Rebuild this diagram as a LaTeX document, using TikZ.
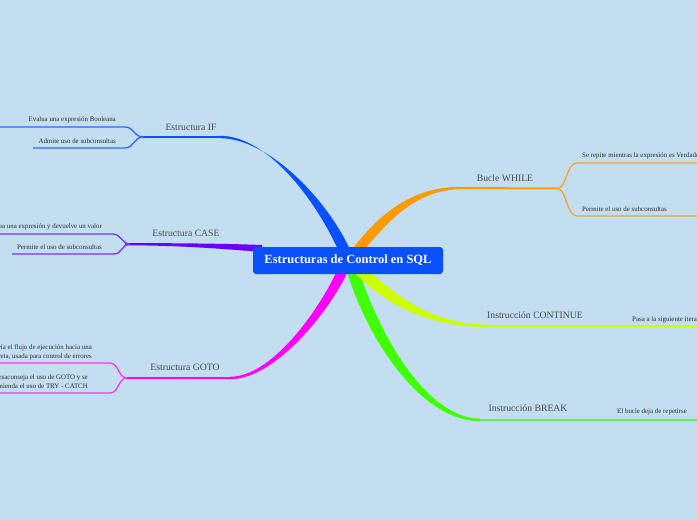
\documentclass[tikz,border=0pt]{standalone}
\usepackage{fontspec}
\setmainfont{Liberation Serif}
\definecolor{bg}{HTML}{C3DEF0}
\definecolor{cblue}{HTML}{0A50FF}
\definecolor{cblueL}{HTML}{2F66FF}
\definecolor{corange}{HTML}{FF9A00}
\definecolor{corangeL}{HTML}{F5A52A}
\definecolor{cpurple}{HTML}{6A00FF}
\definecolor{cpurpleL}{HTML}{7A30FF}
\definecolor{cmag}{HTML}{FF00FF}
\definecolor{cmagL}{HTML}{FF33FF}
\definecolor{cyellow}{HTML}{CCFF00}
\definecolor{cgreen}{HTML}{40FF00}
\definecolor{cgreenL}{HTML}{5CF25A}
\definecolor{lbltxt}{HTML}{4A4A4A}
\definecolor{leaftxt}{HTML}{2E2E2E}
\begin{document}
\begin{tikzpicture}[x=1pt,y=-1pt,
  lbl/.style={inner sep=0pt, text=lbltxt, font=\fontsize{9.7}{11}\selectfont},
  leaf/.style={inner sep=0pt, text=leaftxt, font=\fontsize{6.9}{9}\selectfont},
  under/.style={line width=2pt},
  twig/.style={line width=1.3pt},
  central/.style={fill=cblue, rounded corners=3pt, minimum width=190pt, minimum height=27pt, inner sep=0pt, text=white, font=\fontsize{12.5}{14}\selectfont\bfseries}]
\useasboundingbox (0,0) rectangle (697,520);
\fill[bg] (0,0) rectangle (697,520);
\clip (0,0) rectangle (697,520);

% named coordinates
\coordinate (ifE) at (220,137);
\coordinate (ifJ) at (143,137);
\coordinate (ifA) at (125,127);
\coordinate (ifB) at (125,148);
\coordinate (ifA0) at (0,127);
\coordinate (ifB0) at (33,148);
\coordinate (caseJ) at (130,244);
\coordinate (caseA) at (113,234);
\coordinate (caseB) at (114,254);
\coordinate (caseA0) at (0,234);
\coordinate (caseB0) at (12,254);
\coordinate (gotoE) at (230,378);
\coordinate (gotoJ) at (127,378);
\coordinate (gotoA) at (110,363);
\coordinate (gotoB) at (110,393);
\coordinate (gotoA0) at (0,363);
\coordinate (gotoB0) at (0,393);
\coordinate (whE) at (460,188);
\coordinate (whJ) at (557,188.5);
\coordinate (whA) at (577,163);
\coordinate (whB) at (577,216);
\coordinate (whA0) at (697,163);
\coordinate (whB0) at (697,216);
\coordinate (coE) at (490,326);
\coordinate (co0) at (697,326);
\coordinate (brE) at (480,420);
\coordinate (br0) at (697,420);

% tapered main branches
\fill[cblue] (339,252) .. controls (319,206) and (270,135.8) .. (220,135.8) -- (220,138.2) .. controls (270,138.2) and (330,203) .. (351,252) -- cycle;
\fill[corange] (350,252) .. controls (375,219) and (408,186.8) .. (460,186.8) -- (460,189.2) .. controls (412,190.5) and (386,225) .. (362,252) -- cycle;
\fill[cpurple] (125,243.1) .. controls (180,243.1) and (225,243.6) .. (262,245) -- (262,252) .. controls (225,249) and (180,245.3) .. (125,245.3) -- cycle;
\fill[cmag] (338,268) .. controls (325,300) and (275,376.8) .. (230,376.8) -- (230,379.2) .. controls (278,379.5) and (336,302) .. (349,268) -- cycle;
\fill[cgreen] (346,268) .. controls (364,332) and (418,421.2) .. (480,421.2) -- (480,418.8) .. controls (423,417) and (377,328) .. (358,268) -- cycle;
\fill[cyellow] (354,272) .. controls (386,305) and (428,327.2) .. (490,327.2) -- (490,324.8) .. controls (432,325) and (396,296) .. (366,268) -- cycle;

% underlines and twigs
\draw[cblue, under] (ifE) -- (ifJ);
\draw[cblueL, twig] (ifJ) .. controls (134,137) and (134,127) .. (ifA) -- (ifA0);
\draw[cblueL, twig] (ifJ) .. controls (134,137) and (134,148) .. (ifB) -- (ifB0);
\draw[cpurpleL, twig] (caseJ) .. controls (122,244) and (121,234) .. (caseA) -- (caseA0);
\draw[cpurpleL, twig] (caseJ) .. controls (122,244) and (122,254) .. (caseB) -- (caseB0);
\draw[cmag, under] (gotoE) -- (gotoJ);
\draw[cmagL, twig] (gotoJ) .. controls (118,378) and (119,363) .. (gotoA) -- (gotoA0);
\draw[cmagL, twig] (gotoJ) .. controls (118,378) and (119,393) .. (gotoB) -- (gotoB0);
\draw[corange, under] (whE) -- (whJ);
\draw[corangeL, twig] (whJ) .. controls (567,188.5) and (566,163) .. (whA) -- (whA0);
\draw[corangeL, twig] (whJ) .. controls (567,188.5) and (566,216) .. (whB) -- (whB0);
\draw[cyellow, under] (coE) -- (co0);
\draw[cgreenL, under] (brE) -- (br0);

% central node
\node[central] (root) at (348,260.5) {Estructuras de Control en SQL};

% branch labels
\node[lbl] (nif) at (191,127) {Estructura IF};
\node[lbl] (ncase) at (186,233.5) {Estructura CASE};
\node[lbl] (ngoto) at (185,367) {Estructura GOTO};
\node[lbl] (nwhile) at (505,178) {Bucle WHILE};
\node[lbl] (ncont) at (535,315) {Instrucción CONTINUE};
\node[lbl] (nbreak) at (528,408.5) {Instrucción BREAK};

% leaves
\node[leaf, anchor=east] (l1) at (116,120) {Evalua una expresión Booleana};
\node[leaf, anchor=east] (l2) at (116,141) {Admite uso de subconsultas};
\node[leaf, anchor=east] (l3) at (102,227) {Evalua una expresión y devuelve un valor};
\node[leaf, anchor=east] (l4) at (102,247.5) {Permite el uso de subconsultas};
\node[leaf, anchor=east, align=right] (l5) at (92,352.5) {Desvía el flujo de ejecución hacia una\\etiqueta concreta, usada para control de errores};
\node[leaf, anchor=east, align=right] (l6) at (88,381.5) {Se desaconseja el uso de GOTO y se\\recomienda el uso de TRY - CATCH};
\node[leaf, anchor=west] (r1) at (582,156) {Se repite mientras la expresión es Verdadera};
\node[leaf, anchor=west] (r2) at (582,209.5) {Permite el uso de subconsultas};
\node[leaf, anchor=west] (r3) at (632,320) {Pasa a la siguiente iteración};
\node[leaf, anchor=west] (r4) at (617,412) {El bucle deja de repetirse};
\end{tikzpicture}
\end{document}
